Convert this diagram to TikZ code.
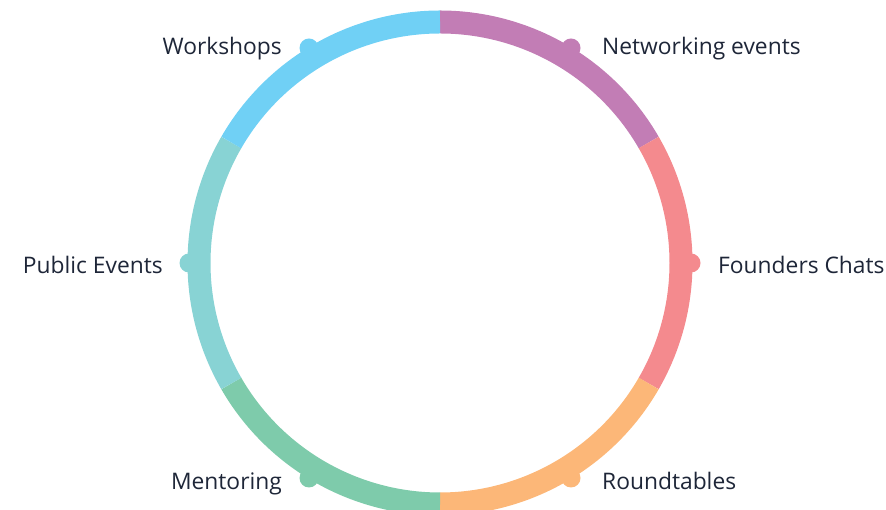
\documentclass[tikz,border=0pt]{standalone}
\usepackage{fontspec}
\setmainfont{Open Sans}
\definecolor{cNet}{HTML}{C27DB5}
\definecolor{cFou}{HTML}{F48A8E}
\definecolor{cRou}{HTML}{FCB778}
\definecolor{cMen}{HTML}{7ECBAB}
\definecolor{cPub}{HTML}{88D3D4}
\definecolor{cWor}{HTML}{70D0F5}
\definecolor{txt}{HTML}{1E2638}
\begin{document}
\begin{tikzpicture}[x=1pt,y=1pt,
  seg/.style={line width=23pt, line cap=butt},
  dot/.style={circle, minimum size=19pt, inner sep=0pt, draw=none},
  lbl/.style={font=\fontsize{22.8}{27}\selectfont, text=txt, inner sep=0pt}]
\useasboundingbox (0,0) rectangle (886,510);
\clip (0,0) rectangle (886,510);
\coordinate (c) at (440,247);
% ring segments
\draw[seg, draw=cNet] ([shift={(90:241)}]c) arc[start angle=90, end angle=30, radius=241];
\draw[seg, draw=cFou] ([shift={(30:241)}]c) arc[start angle=30, end angle=-30, radius=241];
\draw[seg, draw=cRou] ([shift={(-30:241)}]c) arc[start angle=-30, end angle=-90, radius=241];
\draw[seg, draw=cMen] ([shift={(-90:241)}]c) arc[start angle=-90, end angle=-150, radius=241];
\draw[seg, draw=cPub] ([shift={(-150:241)}]c) arc[start angle=-150, end angle=-210, radius=241];
\draw[seg, draw=cWor] ([shift={(150:241)}]c) arc[start angle=150, end angle=90, radius=241];
% dots
\node[dot, fill=cNet] (dNet) at (571,462) {};
\node[dot, fill=cFou] (dFou) at (691,247) {};
\node[dot, fill=cRou] (dRou) at (571,32) {};
\node[dot, fill=cMen] (dMen) at (309,32) {};
\node[dot, fill=cPub] (dPub) at (189,247) {};
\node[dot, fill=cWor] (dWor) at (309,462) {};
% labels
\node[lbl, anchor=base west] (lNet) at (602,455.5) {Networking events};
\node[lbl, anchor=base west] (lFou) at (718,236) {Founders Chats};
\node[lbl, anchor=base west] (lRou) at (602,20.5) {Roundtables};
\node[lbl, anchor=base east] (lMen) at (282,20.5) {Mentoring};
\node[lbl, anchor=base east] (lPub) at (163,236) {Public Events};
\node[lbl, anchor=base east] (lWor) at (282,455.5) {Workshops};
\end{tikzpicture}
\end{document}
